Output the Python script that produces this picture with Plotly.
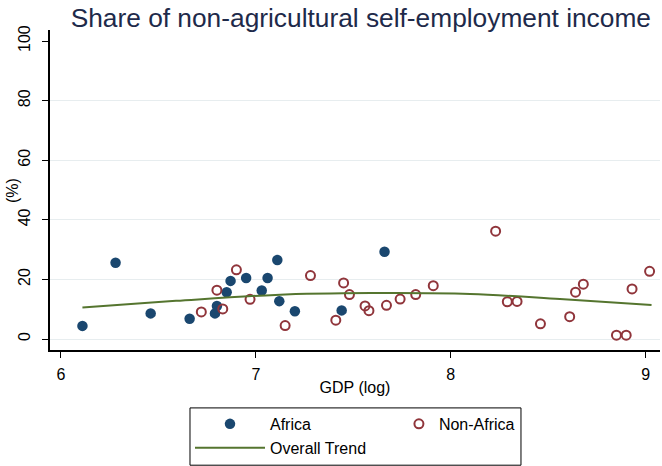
import plotly.graph_objects as go

# ---- data ----
africa_gdp = [6.11, 6.28, 6.46, 6.66, 6.79, 6.80, 6.85, 6.87, 6.95, 7.03, 7.06, 7.11, 7.12, 7.20, 7.44, 7.66]
africa_share = [4.4, 25.6, 8.6, 6.8, 8.6, 11.1, 15.7, 19.5, 20.5, 16.3, 20.5, 26.5, 12.7, 9.3, 9.6, 29.3]

nonafrica_gdp = [6.72, 6.80, 6.83, 6.90, 6.97, 7.15, 7.28, 7.41, 7.45, 7.48, 7.56, 7.58, 7.67, 7.74,
                 7.82, 7.91, 8.23, 8.29, 8.34, 8.46, 8.61, 8.64, 8.68, 8.85, 8.90, 8.93, 9.02]
nonafrica_share = [9.1, 16.4, 10.1, 23.2, 13.3, 4.5, 21.3, 6.3, 18.8, 14.9, 11.1, 9.5, 11.3, 13.4,
                   14.9, 17.9, 36.2, 12.5, 12.6, 5.1, 7.5, 15.7, 18.4, 1.3, 1.3, 16.8, 22.7]

trend_gdp = [6.11, 6.59, 7.10, 7.59, 8.10, 8.56, 9.03]
trend_share = [10.6, 12.8, 14.8, 15.4, 15.1, 13.4, 11.4]

x_ticks = [6, 7, 8, 9]
y_ticks = [0, 20, 40, 60, 80, 100]
grid_vals = [0, 20, 40, 60, 80]

NAVY = "#1a476f"
MAROON = "#90353b"
OLIVE = "#55752f"
FONT = "Liberation Sans, Arial, sans-serif"

x_range = [5.9436, 9.0734]
y_range = [-3.69, 103.7]

fig = go.Figure()
fig.add_trace(go.Scatter(
    x=africa_gdp, y=africa_share, mode="markers", name="Africa",
    marker=dict(symbol="circle", size=10.5, color=NAVY, line=dict(width=0)),
    legend="legend", cliponaxis=False))
fig.add_trace(go.Scatter(
    x=nonafrica_gdp, y=nonafrica_share, mode="markers", name="Non-Africa",
    marker=dict(symbol="circle-open", size=9, color=MAROON, line=dict(width=2, color=MAROON)),
    legend="legend2", cliponaxis=False))
fig.add_trace(go.Scatter(
    x=trend_gdp, y=trend_share, mode="lines", name="Overall Trend",
    line=dict(color=OLIVE, width=2, shape="spline", smoothing=1.0),
    legend="legend"))

# dummy on overlay axis to carry gridlines
fig.add_trace(go.Scatter(x=[None], y=[None], yaxis="y2", showlegend=False, hoverinfo="skip"))

fig.update_layout(
    width=662, height=466,
    margin=dict(l=50, r=2, t=30, b=116, autoexpand=False),
    paper_bgcolor="white", plot_bgcolor="white",
    font=dict(family=FONT, size=16, color="black"),
    title=dict(text="Share of non-agricultural self-employment income",
               font=dict(family=FONT, size=26.3, color="#1e2a4a"),
               x=0.545, xanchor="center", y=0.962, yanchor="middle"),
    xaxis=dict(range=x_range, tickvals=x_ticks, showgrid=False, zeroline=False,
               showline=True, linecolor="black", linewidth=1.5, automargin=True,
               ticks="outside", ticklen=6, tickcolor="black", tickwidth=1,
               ticklabelstandoff=3,
               tickfont=dict(size=16, color="black"),
               title=dict(text="GDP (log)", font=dict(size=16, color="black"), standoff=0)),
    yaxis=dict(range=y_range, tickvals=y_ticks, showgrid=False, zeroline=False,
               showline=True, linecolor="black", linewidth=1.5, automargin=False,
               ticks="outside", ticklen=6, tickcolor="black", tickwidth=1,
               tickangle=-90, ticklabelstandoff=6,
               tickfont=dict(size=16, color="black")),
    yaxis2=dict(range=y_range, overlaying="y", tickvals=grid_vals, showgrid=True,
                gridcolor="#e7edef", gridwidth=1, showticklabels=False, ticks="",
                zeroline=False, showline=False, layer="below traces", automargin=False),
    legend=dict(x=0.2295, y=-0.178, xanchor="left", yanchor="top",
                orientation="v", itemwidth=70, bgcolor="rgba(0,0,0,0)",
                borderwidth=0, font=dict(size=16, color="black"),
                tracegroupgap=0, itemclick=False),
    legend2=dict(x=0.572, y=-0.178, xanchor="left", yanchor="top",
                 orientation="v", itemwidth=30, bgcolor="rgba(0,0,0,0)",
                 borderwidth=0, font=dict(size=16, color="black"), itemclick=False),
    shapes=[dict(type="rect", xref="paper", yref="paper",
                 x0=0.2295, x1=0.7721, y0=-0.36, y1=-0.181,
                 line=dict(color="black", width=1), fillcolor="rgba(0,0,0,0)")],
    annotations=[dict(text="(%)", xref="paper", yref="paper", x=-0.0623, y=0.5,
                      xanchor="center", yanchor="middle", textangle=-90, showarrow=False,
                      font=dict(family=FONT, size=16, color="black"))],
    showlegend=True,
)
fig.update_yaxes(layer="below traces")

fig.write_html("out.html",
               config={"displayModeBar": False},
               post_script="document.body.style.margin='0';document.body.style.overflow='hidden';")
